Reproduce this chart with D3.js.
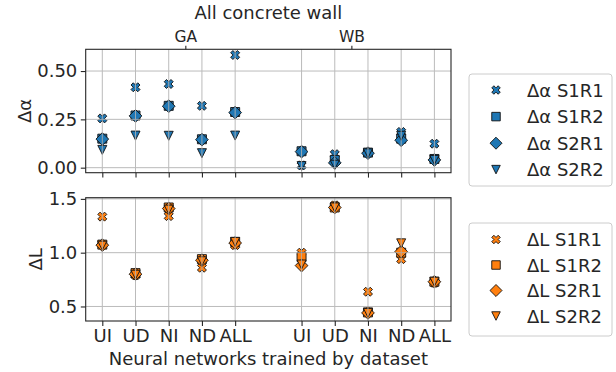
<!DOCTYPE html>
<html>
<head>
<meta charset="utf-8">
<script src="https://cdn.jsdelivr.net/npm/d3@7/dist/d3.min.js"></script>
<style>
  html, body { margin: 0; padding: 0; background: #fff; }
  svg { display: block; font-family: "DejaVu Sans", sans-serif; }
</style>
</head>
<body>
<svg id="chart" width="616" height="372"></svg>
<script>
// ---------------- DATA ----------------
const categories = ["UI", "UD", "NI", "ND", "ALL"];
const groups = ["GA", "WB"];
const seriesNames = ["S1R1", "S1R2", "S2R1", "S2R2"];
// Δα values: GA (UI,UD,NI,ND,ALL) then WB (UI,UD,NI,ND,ALL)
const alphaS1R1 = [0.255, 0.416, 0.433, 0.320, 0.583, 0.012, 0.070, 0.078, 0.185, 0.124];
const alphaS1R2 = [0.150, 0.270, 0.320, 0.147, 0.288, 0.085, 0.040, 0.078, 0.150, 0.045];
const alphaS2R1 = [0.148, 0.268, 0.318, 0.145, 0.285, 0.083, 0.025, 0.075, 0.142, 0.040];
const alphaS2R2 = [0.092, 0.166, 0.165, 0.075, 0.166, 0.008, 0.015, 0.074, 0.165, 0.040];
// ΔL values
const lS1R1 = [1.335, 0.790, 1.340, 0.860, 1.070, 1.000, 1.440, 0.637, 0.940, 0.720];
const lS1R2 = [1.075, 0.810, 1.420, 0.940, 1.100, 0.960, 1.420, 0.445, 1.000, 0.730];
const lS2R1 = [1.070, 0.800, 1.410, 0.930, 1.090, 0.880, 1.420, 0.440, 1.010, 0.730];
const lS2R2 = [1.065, 0.795, 1.400, 0.920, 1.100, 0.890, 1.420, 0.440, 1.087, 0.730];
const alphaTicks = [0.00, 0.25, 0.50];
const lTicks = [0.5, 1.0, 1.5];
const title = "All concrete wall";
const xLabel = "Neural networks trained by dataset";

// ---------------- LAYOUT ----------------
const svg = d3.select("#chart");
const L = 85.7, R = 451;
const topP = {t: 49.3, b: 172.7};
const botP = {t: 197.7, b: 321};
const textCol = "#262626";
const blue = "#1f77b4", orange = "#ff7f0e";
const ms = 9;

// positions: GA at 0..4, WB at 6..10
const xPos = [];
groups.forEach((g, gi) => categories.forEach((c, ci) => xPos.push(gi * 6 + ci)));
const x = d3.scaleLinear().domain([-0.5, 10.5]).range([L, R]);

const yA = d3.scaleLinear().domain([-0.026, 0.6125]).range([topP.b, topP.t]);
const yL = d3.scaleLinear().domain([0.365, 1.511]).range([botP.b, botP.t]);

// marker shapes
function markerPath(type, s) {
  const h = s / 2;
  if (type === "X") {
    const pts = [[-1,-2],[0,-1],[1,-2],[2,-1],[1,0],[2,1],[1,2],[0,1],[-1,2],[-2,1],[-1,0],[-2,-1]];
    return "M" + pts.map(p => [p[0] / 4 * s, p[1] / 4 * s].join(",")).join("L") + "Z";
  }
  if (type === "s") return `M${-h},${-h}L${h},${-h}L${h},${h}L${-h},${h}Z`;
  if (type === "D") { const d = h * Math.SQRT2; return `M0,${-d}L${d},0L0,${d}L${-d},0Z`; }
  if (type === "v") return `M0,${h}L${-h},${-h}L${h},${-h}Z`;
}
const markerTypes = ["X", "s", "D", "v"];

function drawPanel(panel, yScale, yTicks, tickFmt, seriesArr, color, showXLabels, yLabText, yLabX) {
  const g = svg.append("g");
  // markers
  seriesArr.forEach((vals, si) => {
    g.append("g").selectAll("path").data(vals).join("path")
      .attr("transform", (d, i) => `translate(${x(xPos[i])},${yScale(d)})`)
      .attr("d", markerPath(markerTypes[si], ms))
      .attr("fill", color).attr("stroke", "#111").attr("stroke-width", 0.9);
  });
  // grid (drawn over markers, as in reference)
  const grid = g.append("g").attr("stroke", "#b0b0b0").attr("stroke-width", 1).attr("opacity", 0.85);
  grid.selectAll("line.v").data(xPos).join("line")
    .attr("x1", d => x(d)).attr("x2", d => x(d)).attr("y1", panel.t).attr("y2", panel.b);
  grid.selectAll("line.h").data(yTicks).join("line")
    .attr("x1", L).attr("x2", R).attr("y1", d => yScale(d)).attr("y2", d => yScale(d));

  // y axis
  const yAxis = d3.axisLeft(yScale).tickValues(yTicks).tickFormat(tickFmt).tickSize(4.9).tickPadding(3.5);
  const ya = g.append("g").attr("transform", `translate(${L},0)`).call(yAxis);
  ya.select(".domain").remove();
  ya.selectAll("line").attr("stroke", textCol).attr("stroke-width", 1.1);
  ya.selectAll("text").attr("font-size", 18).attr("fill", textCol).attr("font-family", "DejaVu Sans");

  // x axis
  const xAxis = d3.axisBottom(x).tickValues(xPos).tickFormat((d, i) => showXLabels ? categories[i % 5] : "").tickSize(4.9).tickPadding(3.5);
  const xa = g.append("g").attr("transform", `translate(0,${panel.b})`).call(xAxis);
  xa.select(".domain").remove();
  xa.selectAll("line").attr("stroke", textCol).attr("stroke-width", 1.1);
  xa.selectAll("text").attr("font-size", 18).attr("fill", textCol).attr("font-family", "DejaVu Sans");

  // frame
  g.append("rect").attr("x", L).attr("y", panel.t).attr("width", R - L).attr("height", panel.b - panel.t)
    .attr("fill", "none").attr("stroke", textCol).attr("stroke-width", 1.1);

  // y label
  g.append("text").attr("transform", `translate(${yLabX},${(panel.t + panel.b) / 2}) rotate(-90)`)
    .attr("text-anchor", "middle").attr("font-size", 18).attr("fill", textCol).text(yLabText);
}

drawPanel(topP, yA, alphaTicks, d3.format(".2f"), [alphaS1R1, alphaS1R2, alphaS2R1, alphaS2R2], blue, false, "Δα", 31);
drawPanel(botP, yL, lTicks, d3.format(".1f"), [lS1R1, lS1R2, lS2R1, lS2R2], orange, true, "ΔL", 42);

// secondary top axis with group labels
const groupPos = [2.5, 7.5];
const topAxis = d3.axisTop(x).tickValues(groupPos).tickFormat((d, i) => groups[i]).tickSize(3.5).tickPadding(3.5);
const ta = svg.append("g").attr("transform", `translate(0,${topP.t})`).call(topAxis);
ta.select(".domain").remove();
ta.selectAll("line").attr("stroke", textCol).attr("stroke-width", 1.1);
ta.selectAll("text").attr("font-size", 15.5).attr("fill", textCol).attr("font-family", "DejaVu Sans");

// title
svg.append("text").attr("x", (L + R) / 2).attr("y", 19).attr("text-anchor", "middle")
  .attr("font-size", 18).attr("fill", textCol).text(title);
// x label
svg.append("text").attr("x", (L + R) / 2).attr("y", 365).attr("text-anchor", "middle")
  .attr("font-size", 18).attr("fill", textCol).text(xLabel);

// legends
function legend(box, rows, prefix, color) {
  const g = svg.append("g");
  g.append("rect").attr("x", box.x).attr("y", box.y).attr("width", box.w).attr("height", box.h)
    .attr("rx", 3).attr("fill", "#fff").attr("fill-opacity", 0.8).attr("stroke", "#cccccc").attr("stroke-width", 1);
  seriesNames.forEach((s, i) => {
    g.append("path").attr("transform", `translate(496,${rows[i]})`).attr("d", markerPath(markerTypes[i], 8.5))
      .attr("fill", color).attr("stroke", "#111").attr("stroke-width", 0.9);
    g.append("text").attr("x", 527).attr("y", rows[i] + 6.5).attr("font-size", 18).attr("fill", textCol)
      .text(prefix + " " + s);
  });
}
legend({x: 469, y: 74, w: 143, h: 112}, [90, 116.6, 143.2, 169.6], "Δα", blue);
legend({x: 469, y: 223, w: 143, h: 113}, [239.5, 265, 290.5, 316], "ΔL", orange);
</script>
</body>
</html>
